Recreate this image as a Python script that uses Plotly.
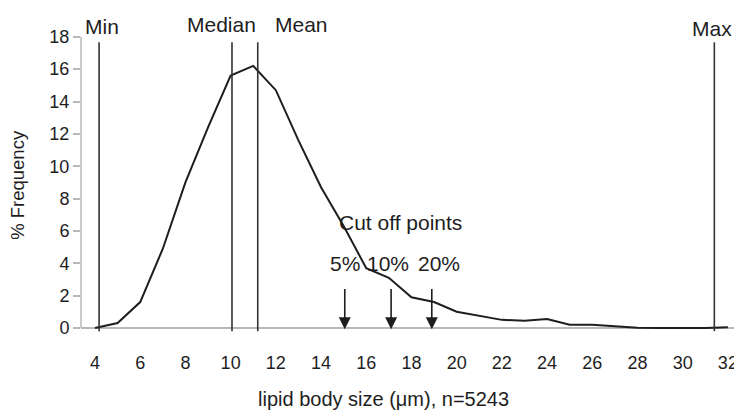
import plotly.graph_objects as go

# lipid body size distribution
sizes = list(range(4, 33))
freq = [0.0, 0.3, 1.6, 4.9, 9.0, 12.4, 15.6, 16.2, 14.7, 11.6, 8.7, 6.3, 3.7, 3.1,
        1.9, 1.6, 1.0, 0.75, 0.5, 0.45, 0.55, 0.2, 0.2, 0.1, 0.02, 0.0, 0.0, 0.0, 0.05]

# summary statistics
stat_names = ["Min", "Median", "Mean", "Max"]
stat_values = [4.18, 10.06, 11.2, 31.4]
stat_label_x = [4.3, 9.6, 13.15, 31.3]
stat_label_y = [1.033, 1.038, 1.038, 1.027]

# cut off points
cut_names = ["5%", "10%", "20%"]
cut_values = [15.05, 17.1, 18.9]
cut_label_x = [15.05, 16.95, 19.2]

ink = "#1e1e1e"
font = "Liberation Sans, Arial, sans-serif"

fig = go.Figure()
fig.add_trace(go.Scatter(x=sizes, y=freq, mode="lines",
                         line=dict(color=ink, width=2), hoverinfo="x+y"))

# vertical marker lines and their labels
for name, val, lx, ly in zip(stat_names, stat_values, stat_label_x, stat_label_y):
    fig.add_shape(type="line", x0=val, x1=val, y0=-0.2, y1=17.67,
                  line=dict(color="#333333", width=1.6))
    fig.add_annotation(x=lx, y=ly, yref="paper", text=name, showarrow=False,
                       font=dict(size=21, color=ink), yanchor="middle")

# cut off arrows
for name, val, lx in zip(cut_names, cut_values, cut_label_x):
    fig.add_annotation(x=val, y=-0.08, ax=val, ay=2.5, axref="x", ayref="y",
                       text="", showarrow=True, arrowhead=2, arrowsize=1.5,
                       arrowwidth=1.6, arrowcolor=ink)
    fig.add_annotation(x=lx, y=4.0, text=name, showarrow=False,
                       font=dict(size=21, color=ink))
fig.add_annotation(x=17.5, y=6.5, text="Cut off points", showarrow=False,
                   font=dict(size=21, color=ink))

# y axis line (drawn from 0 to 18 only)
fig.add_shape(type="line", xref="paper", x0=0, x1=0, y0=0, y1=18,
              line=dict(color="#b8b8b8", width=1.5))

# axis titles
fig.add_annotation(xref="paper", yref="paper", x=0.459, y=-0.228,
                   text="lipid body size (μm), n=5243", showarrow=False,
                   font=dict(size=20, color=ink), yanchor="middle")
fig.add_annotation(xref="paper", yref="paper", x=-0.0955, y=0.497,
                   text="% Frequency", textangle=-90, showarrow=False,
                   font=dict(size=18.5, color=ink), xanchor="center")

# page body adds an 8px offset, so the figure is a bit smaller than the window
fig.update_layout(
    width=734, height=403,
    margin=dict(l=73, r=1, t=28, b=79),
    plot_bgcolor="white", paper_bgcolor="white",
    showlegend=False,
    font=dict(family=font, size=18, color=ink),
)
fig.update_xaxes(range=[3.38, 32.58], tickmode="array", tickvals=list(range(4, 33, 2)),
                 showgrid=False, zeroline=False, showline=False, automargin=False,
                 ticks="outside", ticklen=14, tickcolor="rgba(0,0,0,0)",
                 tickfont=dict(size=18, color=ink))
fig.update_yaxes(range=[-0.25, 18.05], tickmode="array", tickvals=list(range(0, 19, 2)),
                 showgrid=False, showline=False, automargin=False,
                 zeroline=True, zerolinecolor="#b8b8b8", zerolinewidth=1.5,
                 ticks="outside", ticklen=7, tickcolor="#b8b8b8", tickwidth=1.5,
                 tickfont=dict(size=18, color=ink))

fig.write_html("out.html")
